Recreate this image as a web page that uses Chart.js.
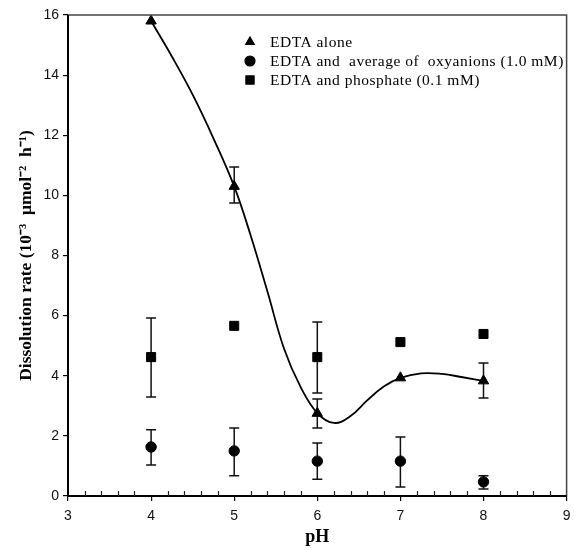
<!DOCTYPE html>
<html>
<head>
<meta charset="utf-8">
<script src="https://cdn.jsdelivr.net/npm/chart.js@4/dist/chart.umd.min.js"></script>
<style>
  html, body { margin: 0; padding: 0; background: #fff; }
  #wrap { width: 574px; height: 548px; position: relative; }
</style>
</head>
<body>
<div id="wrap"><canvas id="c" width="574" height="548"></canvas></div>
<script>
// ---- data ----
const pH = [4, 5, 6, 7, 8];

const edtaAlone     = [15.8, 10.3, 2.75, 3.93, 3.83];
const edtaAloneLow  = [null, 9.75, 2.26, null, 3.26];
const edtaAloneHigh = [null, 10.94, 3.23, null, 4.42];

const oxyanions     = [1.63, 1.5, 1.16, 1.16, 0.47];
const oxyanionsLow  = [1.03, 0.67, 0.56, 0.30, 0.23];
const oxyanionsHigh = [2.20, 2.26, 1.76, 1.96, 0.67];

const phosphate     = [4.62, 5.66, 4.62, 5.12, 5.39];
const phosphateLow  = [3.29, null, 3.43, null, null];
const phosphateHigh = [5.92, null, 5.79, null, null];

// fitted curve through "EDTA alone"
const curvePH  = [4.0, 4.25, 4.5, 4.75, 5.0, 5.2, 5.4, 5.6, 5.8, 6.0, 6.2, 6.4, 6.6, 6.8, 7.0, 7.25, 7.5, 7.75, 8.0];
const curveVal = [15.8, 14.62, 13.35, 11.9, 10.3, 8.65, 6.8, 4.9, 3.62, 2.76, 2.43, 2.66, 3.18, 3.64, 3.93, 4.08, 4.06, 3.95, 3.83];

const xTicks = [3, 4, 5, 6, 7, 8, 9];
const yTicks = [0, 2, 4, 6, 8, 10, 12, 14, 16];

const labels = [
  'EDTA alone',
  'EDTA and  average of  oxyanions (1.0 mM)',
  'EDTA and phosphate (0.1 mM)'
];

const xTitle = 'pH';
const yTitle = 'Dissolution rate (10\u207B\u00B3  \u03BCmol\u207B\u00B2  h\u207B\u00B9)';

// ---- build ----
const pts = (xs, ys) => xs.map((x, i) => ({ x: x, y: ys[i] }));

const datasets = [
  { label: 'curve', data: pts(curvePH, curveVal), showLine: true, pointRadius: 0,
    borderColor: '#000', borderWidth: 1.8, tension: 0.4, legendHide: true, order: 5 },
  { label: labels[0], data: pts(pH, edtaAlone), pointStyle: 'triangle', pointRadius: 6,
    backgroundColor: '#000', borderColor: '#000', borderWidth: 1, errLow: edtaAloneLow, errHigh: edtaAloneHigh, legendRadius: 5 },
  { label: labels[1], data: pts(pH, oxyanions), pointStyle: 'circle', pointRadius: 5.2,
    backgroundColor: '#000', borderColor: '#000', borderWidth: 1, errLow: oxyanionsLow, errHigh: oxyanionsHigh, legendRadius: 5 },
  { label: labels[2], data: pts(pH, phosphate), pointStyle: 'rect', pointRadius: 6.4,
    backgroundColor: '#000', borderColor: '#000', borderWidth: 1, errLow: phosphateLow, errHigh: phosphateHigh, legendRadius: 5.8 }
];

const errorBars = {
  id: 'errorBars',
  beforeDatasetsDraw(chart) {
    const { ctx, scales: { x, y } } = chart;
    ctx.save();
    ctx.strokeStyle = '#111';
    ctx.lineWidth = 1.5;
    chart.data.datasets.forEach(ds => {
      if (!ds.errLow) return;
      ds.data.forEach((p, i) => {
        const lo = ds.errLow[i], hi = ds.errHigh[i];
        if (lo == null || hi == null) return;
        const px = x.getPixelForValue(p.x);
        const py1 = y.getPixelForValue(lo), py2 = y.getPixelForValue(hi);
        const cap = 5;
        ctx.beginPath();
        ctx.moveTo(px, py1); ctx.lineTo(px, py2);
        ctx.moveTo(px - cap, py1); ctx.lineTo(px + cap, py1);
        ctx.moveTo(px - cap, py2); ctx.lineTo(px + cap, py2);
        ctx.stroke();
      });
    });
    ctx.restore();
  }
};

const frame = {
  id: 'frame',
  afterDraw(chart) {
    const { ctx, chartArea: a, scales: { x } } = chart;
    ctx.save();
    // top and right border
    ctx.strokeStyle = '#444';
    ctx.lineWidth = 1.5;
    ctx.beginPath();
    ctx.moveTo(a.left, a.top); ctx.lineTo(a.right, a.top); ctx.lineTo(a.right, a.bottom);
    ctx.stroke();
    // left and bottom axis
    ctx.strokeStyle = '#000';
    ctx.lineWidth = 2;
    ctx.beginPath();
    ctx.moveTo(a.left, a.top); ctx.lineTo(a.left, a.bottom); ctx.lineTo(a.right, a.bottom);
    ctx.stroke();
    // minor inward ticks on x axis
    ctx.lineWidth = 1.2;
    ctx.strokeStyle = '#222';
    ctx.beginPath();
    for (let k = 1; k < 30; k++) {
      if (k % 5 === 0) continue;
      const v = x.min + k * 0.2;
      const px = Math.round(x.getPixelForValue(v)) + 0.5;
      ctx.moveTo(px, a.bottom); ctx.lineTo(px, a.bottom - 5);
    }
    ctx.stroke();
    // legend
    const lx = a.left + 182, ly = a.top + 27, dy = 19;
    ctx.font = '15.5px "Liberation Serif", "Times New Roman", serif';
    ctx.letterSpacing = '0.5px';
    ctx.fillStyle = '#000';
    ctx.textBaseline = 'middle';
    ctx.textAlign = 'left';
    let row = 0;
    chart.data.datasets.forEach(ds => {
      if (ds.legendHide) return;
      const yy = ly + row * dy;
      ctx.fillStyle = '#000'; ctx.strokeStyle = '#000';
      Chart.helpers.drawPoint(ctx, { pointStyle: ds.pointStyle, radius: ds.legendRadius, rotation: 0, borderWidth: 1 }, lx, yy);
      ctx.fillText(ds.label, lx + 20, yy + 1);
      row++;
    });
    ctx.restore();
  }
};

const noPad = s => { s.paddingLeft = 0; s.paddingRight = 0; s.paddingTop = 0; s.paddingBottom = 0; };

new Chart(document.getElementById('c'), {
  type: 'scatter',
  data: { datasets: datasets },
  options: {
    responsive: false,
    animation: false,
    events: [],
    layout: { padding: { top: 15, right: 0, left: 0, bottom: 0 } },
    plugins: { legend: { display: false }, tooltip: { enabled: false } },
    scales: {
      x: {
        type: 'linear', min: 3, max: 9,
        afterBuildTicks: s => { s.ticks = xTicks.map(v => ({ value: v })); },
        afterFit: s => { s.height = 52; noPad(s); },
        grid: { display: true, drawOnChartArea: false, drawTicks: true, tickLength: 5, color: '#000', lineWidth: 1.2 },
        border: { display: false },
        ticks: { color: '#111', font: { family: '"Liberation Sans", Arial, sans-serif', size: 14 }, padding: 7, maxRotation: 0 },
        title: { display: true, text: xTitle, color: '#000',
          font: { family: '"Liberation Serif", "Times New Roman", serif', size: 18, weight: 'bold' }, padding: { top: 0, bottom: 0 } }
      },
      y: {
        type: 'linear', min: 0, max: 16,
        afterBuildTicks: s => { s.ticks = yTicks.map(v => ({ value: v })); },
        afterFit: s => { s.width = 68; noPad(s); },
        grid: { display: true, drawOnChartArea: false, drawTicks: true, tickLength: 5, color: '#000', lineWidth: 1.2 },
        border: { display: false },
        ticks: { color: '#111', font: { family: '"Liberation Sans", Arial, sans-serif', size: 14 }, padding: 4 },
        title: { display: true, text: yTitle, color: '#000',
          font: { family: '"Liberation Serif", "Times New Roman", serif', size: 17.5, weight: 'bold' }, padding: { top: 16, bottom: 0 } }
      }
    }
  },
  plugins: [errorBars, frame]
});
</script>
</body>
</html>
